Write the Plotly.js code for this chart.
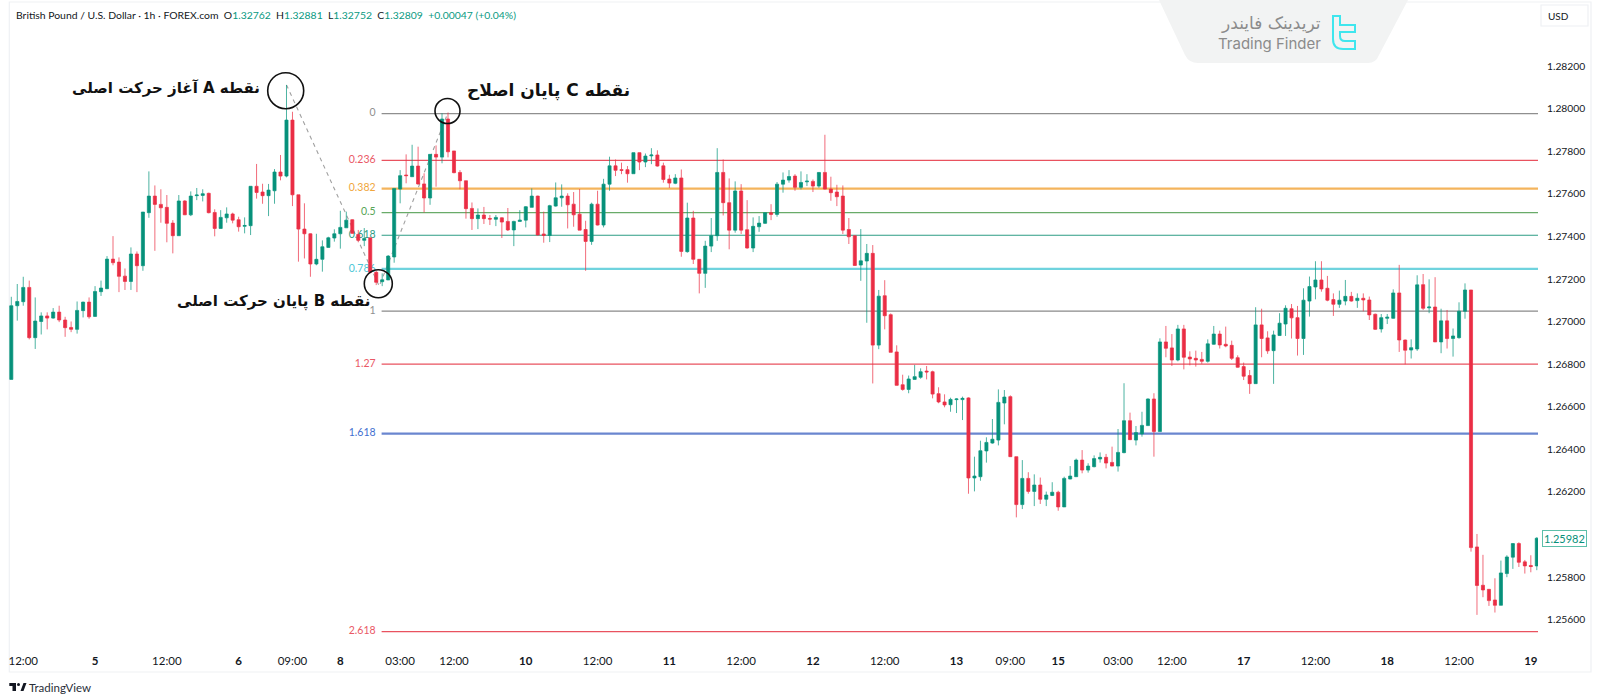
<!DOCTYPE html>
<html><head><meta charset="utf-8">
<script src="https://cdn.plot.ly/plotly-3.0.1.min.js"></script>
<style>html,body{margin:0;padding:0;background:#fff}#c{width:1600px;height:700px}</style>
</head><body><div id="c"></div>
<script>
const opens=[1.26728,1.27074,1.27093,1.27160,1.26924,1.27000,1.27026,1.27016,1.27044,1.27007,1.26972,1.26963,1.27051,1.27091,1.27024,1.27140,1.27154,1.27293,1.27279,1.27213,1.27188,1.27317,1.27262,1.27511,1.27589,1.27550,1.27536,1.27462,1.27403,1.27566,1.27501,1.27591,1.27592,1.27602,1.27512,1.27437,1.27487,1.27505,1.27478,1.27447,1.27450,1.27635,1.27608,1.27591,1.27614,1.27702,1.27683,1.27946,1.27595,1.27434,1.27412,1.27270,1.27292,1.27348,1.27392,1.27412,1.27440,1.27478,1.27409,1.27381,1.27393,1.27231,1.27187,1.27195,1.27303,1.27622,1.27688,1.27680,1.27730,1.27646,1.27580,1.27785,1.27772,1.27951,1.27801,1.27700,1.27661,1.27531,1.27483,1.27500,1.27484,1.27480,1.27487,1.27470,1.27430,1.27470,1.27476,1.27536,1.27589,1.27411,1.27404,1.27542,1.27581,1.27589,1.27551,1.27504,1.27432,1.27376,1.27551,1.27453,1.27645,1.27731,1.27713,1.27713,1.27694,1.27793,1.27749,1.27778,1.27782,1.27731,1.27669,1.27649,1.27674,1.27328,1.27486,1.27292,1.27226,1.27354,1.27403,1.27700,1.27558,1.27429,1.27613,1.27431,1.27345,1.27445,1.27461,1.27511,1.27503,1.27645,1.27664,1.27683,1.27630,1.27656,1.27658,1.27636,1.27700,1.27622,1.27608,1.27589,1.27432,1.27403,1.27265,1.27284,1.27320,1.26889,1.27121,1.27032,1.26857,1.26703,1.26681,1.26728,1.26738,1.26767,1.26764,1.26661,1.26622,1.26609,1.26633,1.26633,1.26641,1.26265,1.26271,1.26392,1.26429,1.26443,1.26617,1.26647,1.26365,1.26140,1.26263,1.26202,1.26232,1.26165,1.26183,1.26198,1.26129,1.26260,1.26271,1.26349,1.26302,1.26318,1.26354,1.26362,1.26338,1.26321,1.26384,1.26534,1.26443,1.26472,1.26511,1.26636,1.26483,1.26904,1.26876,1.26819,1.26965,1.26833,1.26827,1.26822,1.26813,1.26893,1.26941,1.26893,1.26888,1.26830,1.26788,1.26746,1.26708,1.26984,1.26923,1.26863,1.26934,1.26988,1.27060,1.27018,1.26920,1.27096,1.27162,1.27195,1.27156,1.27103,1.27081,1.27096,1.27118,1.27098,1.27109,1.27101,1.27034,1.26965,1.27015,1.27015,1.27134,1.26913,1.26866,1.26871,1.27173,1.27064,1.27068,1.26904,1.27003,1.26920,1.26924,1.27048,1.27148,1.25941,1.25761,1.25742,1.25692,1.25667,1.25816,1.25893,1.25957,1.25871,1.25854,1.25852];
const highs=[1.27116,1.27176,1.27210,1.27192,1.27113,1.27043,1.27043,1.27063,1.27074,1.27022,1.27000,1.27094,1.27093,1.27113,1.27166,1.27192,1.27307,1.27401,1.27301,1.27249,1.27348,1.27329,1.27514,1.27705,1.27639,1.27621,1.27594,1.27476,1.27594,1.27570,1.27611,1.27627,1.27621,1.27605,1.27527,1.27523,1.27536,1.27511,1.27492,1.27489,1.27636,1.27740,1.27647,1.27646,1.27716,1.27782,1.28111,1.27985,1.27595,1.27555,1.27414,1.27412,1.27381,1.27398,1.27433,1.27520,1.27516,1.27480,1.27430,1.27439,1.27393,1.27238,1.27226,1.27312,1.27625,1.27711,1.27785,1.27830,1.27821,1.27696,1.27785,1.27827,1.27978,1.27981,1.27801,1.27711,1.27661,1.27559,1.27531,1.27538,1.27500,1.27500,1.27489,1.27533,1.27473,1.27523,1.27542,1.27625,1.27591,1.27516,1.27548,1.27653,1.27644,1.27602,1.27608,1.27622,1.27473,1.27558,1.27614,1.27670,1.27774,1.27761,1.27746,1.27730,1.27794,1.27794,1.27789,1.27814,1.27804,1.27746,1.27689,1.27692,1.27714,1.27558,1.27520,1.27292,1.27379,1.27486,1.27814,1.27761,1.27672,1.27658,1.27645,1.27570,1.27489,1.27495,1.27511,1.27551,1.27655,1.27700,1.27711,1.27692,1.27705,1.27692,1.27667,1.27702,1.27877,1.27680,1.27642,1.27639,1.27486,1.27404,1.27434,1.27364,1.27359,1.27148,1.27194,1.27038,1.26888,1.26750,1.26746,1.26796,1.26780,1.26791,1.26769,1.26691,1.26658,1.26642,1.26639,1.26647,1.26644,1.26365,1.26440,1.26456,1.26542,1.26681,1.26678,1.26653,1.26365,1.26349,1.26292,1.26282,1.26267,1.26201,1.26245,1.26205,1.26271,1.26321,1.26356,1.26396,1.26334,1.26371,1.26385,1.26378,1.26412,1.26495,1.26710,1.26572,1.26509,1.26576,1.26639,1.26663,1.26921,1.26979,1.26941,1.26984,1.26984,1.26860,1.26863,1.26857,1.26916,1.26979,1.26957,1.26976,1.26910,1.26841,1.26807,1.26772,1.27067,1.27060,1.26954,1.26957,1.27039,1.27076,1.27082,1.27073,1.27156,1.27211,1.27283,1.27283,1.27214,1.27132,1.27145,1.27195,1.27139,1.27132,1.27132,1.27117,1.27037,1.27035,1.27035,1.27151,1.27266,1.26915,1.26916,1.27217,1.27223,1.27198,1.27208,1.27060,1.27054,1.26967,1.27090,1.27179,1.27148,1.26002,1.25904,1.25742,1.25794,1.25877,1.25902,1.25958,1.25963,1.25880,1.25902,1.25987];
const lows=[1.26728,1.27004,1.27074,1.26916,1.26871,1.26939,1.26963,1.27013,1.26997,1.26928,1.26950,1.26943,1.27019,1.27013,1.27022,1.27120,1.27152,1.27264,1.27138,1.27148,1.27148,1.27138,1.27238,1.27487,1.27332,1.27464,1.27372,1.27320,1.27403,1.27500,1.27495,1.27570,1.27564,1.27508,1.27400,1.27436,1.27464,1.27461,1.27422,1.27414,1.27406,1.27577,1.27553,1.27495,1.27553,1.27663,1.27677,1.27542,1.27281,1.27296,1.27210,1.27264,1.27234,1.27347,1.27375,1.27342,1.27440,1.27411,1.27372,1.27354,1.27226,1.27171,1.27166,1.27195,1.27276,1.27555,1.27649,1.27680,1.27642,1.27512,1.27548,1.27633,1.27743,1.27771,1.27696,1.27621,1.27483,1.27430,1.27434,1.27458,1.27453,1.27448,1.27392,1.27425,1.27354,1.27470,1.27442,1.27536,1.27404,1.27370,1.27373,1.27539,1.27539,1.27437,1.27445,1.27429,1.27238,1.27360,1.27451,1.27442,1.27614,1.27683,1.27692,1.27652,1.27694,1.27711,1.27725,1.27739,1.27727,1.27652,1.27627,1.27645,1.27304,1.27323,1.27270,1.27132,1.27158,1.27326,1.27379,1.27498,1.27339,1.27417,1.27411,1.27342,1.27326,1.27421,1.27458,1.27476,1.27492,1.27605,1.27652,1.27614,1.27620,1.27636,1.27608,1.27628,1.27620,1.27567,1.27542,1.27411,1.27364,1.27262,1.27191,1.26994,1.26709,1.26870,1.26963,1.26855,1.26699,1.26675,1.26663,1.26728,1.26731,1.26728,1.26639,1.26616,1.26597,1.26576,1.26570,1.26537,1.26191,1.26202,1.26252,1.26337,1.26426,1.26418,1.26517,1.26364,1.26080,1.26119,1.26191,1.26133,1.26143,1.26133,1.26180,1.26111,1.26129,1.26259,1.26271,1.26287,1.26290,1.26315,1.26337,1.26310,1.26320,1.26295,1.26381,1.26443,1.26418,1.26459,1.26509,1.26365,1.26483,1.26832,1.26791,1.26813,1.26775,1.26794,1.26788,1.26801,1.26807,1.26891,1.26873,1.26879,1.26819,1.26783,1.26725,1.26660,1.26708,1.26832,1.26848,1.26707,1.26932,1.26932,1.26920,1.26840,1.26843,1.27023,1.27104,1.27140,1.27095,1.27026,1.27064,1.27076,1.27093,1.27064,1.27048,1.27007,1.26960,1.26948,1.26988,1.27013,1.26857,1.26799,1.26826,1.26862,1.27054,1.27039,1.26904,1.26851,1.26873,1.26835,1.26919,1.27013,1.25919,1.25622,1.25705,1.25664,1.25633,1.25667,1.25799,1.25838,1.25847,1.25816,1.25822,1.25832];
const closes=[1.27074,1.27094,1.27160,1.26924,1.27002,1.27026,1.27016,1.27044,1.27007,1.26971,1.26963,1.27052,1.27091,1.27022,1.27141,1.27157,1.27293,1.27276,1.27212,1.27188,1.27317,1.27262,1.27514,1.27589,1.27550,1.27534,1.27461,1.27403,1.27566,1.27501,1.27589,1.27594,1.27600,1.27511,1.27437,1.27489,1.27505,1.27476,1.27445,1.27451,1.27635,1.27606,1.27591,1.27617,1.27702,1.27683,1.27946,1.27595,1.27434,1.27412,1.27270,1.27292,1.27351,1.27393,1.27412,1.27442,1.27476,1.27414,1.27381,1.27390,1.27231,1.27184,1.27196,1.27307,1.27625,1.27685,1.27685,1.27730,1.27646,1.27580,1.27785,1.27772,1.27951,1.27797,1.27699,1.27661,1.27530,1.27483,1.27500,1.27483,1.27481,1.27489,1.27467,1.27430,1.27470,1.27476,1.27539,1.27589,1.27406,1.27404,1.27544,1.27581,1.27589,1.27548,1.27501,1.27429,1.27376,1.27551,1.27453,1.27645,1.27731,1.27710,1.27710,1.27694,1.27793,1.27749,1.27777,1.27782,1.27730,1.27667,1.27650,1.27674,1.27329,1.27486,1.27292,1.27226,1.27354,1.27403,1.27700,1.27558,1.27429,1.27613,1.27429,1.27345,1.27447,1.27462,1.27511,1.27503,1.27645,1.27664,1.27681,1.27630,1.27653,1.27659,1.27636,1.27700,1.27622,1.27605,1.27586,1.27429,1.27398,1.27263,1.27285,1.27320,1.26889,1.27119,1.27027,1.26855,1.26700,1.26681,1.26730,1.26741,1.26764,1.26763,1.26659,1.26622,1.26608,1.26634,1.26636,1.26639,1.26265,1.26274,1.26393,1.26432,1.26447,1.26620,1.26645,1.26365,1.26140,1.26263,1.26202,1.26232,1.26165,1.26185,1.26198,1.26129,1.26263,1.26274,1.26349,1.26302,1.26321,1.26356,1.26362,1.26335,1.26321,1.26385,1.26534,1.26445,1.26478,1.26512,1.26636,1.26483,1.26904,1.26874,1.26819,1.26965,1.26832,1.26824,1.26819,1.26813,1.26895,1.26941,1.26890,1.26885,1.26827,1.26785,1.26743,1.26708,1.26984,1.26920,1.26862,1.26937,1.26992,1.27062,1.27017,1.26920,1.27100,1.27164,1.27195,1.27153,1.27100,1.27081,1.27100,1.27118,1.27096,1.27109,1.27101,1.27031,1.26963,1.27018,1.27020,1.27134,1.26913,1.26865,1.26877,1.27172,1.27062,1.27068,1.26904,1.27003,1.26920,1.26932,1.27048,1.27148,1.25938,1.25760,1.25739,1.25689,1.25667,1.25819,1.25894,1.25957,1.25869,1.25852,1.25849,1.25982];
const priceTicks=[1.256,1.258,1.262,1.264,1.266,1.268,1.27,1.272,1.274,1.276,1.278,1.28,1.282];
const timeTickBars=[2,14,26,38,47,55,65,74,86,98,110,122,134,146,158,167,175,185,194,206,218,230,242,254];
const timeTickLabels=['12:00','<b>5</b>','12:00','<b>6</b>','09:00','<b>8</b>','03:00','12:00','<b>10</b>','12:00','<b>11</b>','12:00','<b>12</b>','12:00','<b>13</b>','09:00','<b>15</b>','03:00','12:00','<b>17</b>','12:00','<b>18</b>','12:00','<b>19</b>'];
const fibLabels=['0','0.236','0.382','0.5','0.618','0.786','1','1.27','1.618','2.618'];
const fibPrices=[1.27976,1.27757,1.27624,1.27511,1.27405,1.27247,1.27049,1.26800,1.26473,1.25543];
const swingBars=[46,61.5,73];
const swingPrices=[1.28111,1.27166,1.27981];
const lastClose=1.25982;

const fibColors=['#8f8f8f','#e9525f','#f4b45c','#69ab69','#2c9c85','#6fd3de','#8a8a8a','#e9525f','#6a86cf','#e9525f'];
const fibWidths=[1.3,1.2,2.2,1.2,1.2,2.4,1.2,1.2,2.2,1.2];
const fibTextColors=['#8f8f8f','#ea5865','#f0a63c','#56a656','#2c9c85','#4cc6d6','#8f8f8f','#ea5865','#3f6fd0','#ea5865'];
const GREEN='#07907a',RED='#ea2d45';
const L=9,R=1538,T=2,B=650;
const X=p=>(p-L)/(R-L), Y=p=>(B-p)/(B-T);
const xr=[-0.384,255.2], yr=[1.25457,1.285006];
const path=s=>s.replace(/(-?[\d.]+),(-?[\d.]+)/g,(m,a,b)=>X(+a).toFixed(6)+','+Y(+b).toFixed(6));
const bars=opens.map((_,i)=>i);

const traces=[];
fibPrices.forEach((v,i)=>traces.push({type:'scatter',mode:'lines',x:[61.9,255.2],y:[v,v],xaxis:'x',yaxis:'y',
  line:{color:fibColors[i],width:fibWidths[i]},hoverinfo:'skip'}));
traces.push({type:'scatter',mode:'lines',x:swingBars,y:swingPrices,xaxis:'x',yaxis:'y',
  line:{color:'#a0a0a0',width:1.1,dash:'4px,4px'},hoverinfo:'skip'});
traces.push({type:'scatter',mode:'text',x:fibPrices.map(()=>60.9),y:fibPrices,text:fibLabels,textposition:'middle left',
  textfont:{family:'Lato, sans-serif',size:10.5,color:fibTextColors},xaxis:'x',yaxis:'y',hoverinfo:'skip'});
traces.push({type:'candlestick',x:bars,open:opens,high:highs,low:lows,close:closes,xaxis:'x2',yaxis:'y2',
  increasing:{line:{color:'rgba(8,150,126,0.72)',width:1},fillcolor:GREEN},
  decreasing:{line:{color:'rgba(236,50,70,0.72)',width:1},fillcolor:RED},
  whiskerwidth:0,hoverinfo:'skip'});

const dark='#131722';
const g=s=>'<span style="color:#089981">'+s+'</span>';
const nb='\u00a0';
const fa=s=>'\u202B'+s+'\u202C';
const annotations=[
 {x:X(14),y:Y(15),xanchor:'left',yanchor:'middle',align:'left',
  text:'British Pound / U.S. Dollar · 1h · FOREX.com'+nb+nb+'O'+g('1.32762')+nb+nb+'H'+g('1.32881')+nb+nb+'L'+g('1.32752')+nb+nb+'C'+g('1.32809')+nb+nb+g('+0.00047 (+0.04%)'),
  font:{family:'Lato, sans-serif',size:10.4,color:dark}},
 {x:X(262),y:Y(88),xanchor:'right',yanchor:'middle',text:'<b>'+fa('نقطه A آغاز حرکت اصلی')+'</b>',font:{family:'DejaVu Sans',size:15,color:'#111'}},
 {x:X(372),y:Y(301),xanchor:'right',yanchor:'middle',text:'<b>'+fa('نقطه B پایان حرکت اصلی')+'</b>',font:{family:'DejaVu Sans',size:15,color:'#111'}},
 {x:X(632),y:Y(90),xanchor:'right',yanchor:'middle',text:'<b>'+fa('نقطه C پایان اصلاح')+'</b>',font:{family:'DejaVu Sans',size:17,color:'#111'}},
 {x:X(1323),y:Y(23),xanchor:'right',yanchor:'middle',text:'تریدینک فایندر',font:{family:'DejaVu Sans',size:17,color:'#8b8b8b'}},
 {x:X(1323),y:Y(44),xanchor:'right',yanchor:'middle',text:'Trading Finder',font:{family:'Inter, sans-serif',size:15,color:'#8b8b8b'}},
 {x:X(1558),y:Y(16),xanchor:'center',yanchor:'middle',text:'USD',font:{family:'Lato, sans-serif',size:10,color:dark}},
 {x:X(1564),y:lastClose,yref:'y',xanchor:'center',yanchor:'middle',text:lastClose.toFixed(5),bgcolor:'#fff',bordercolor:'#5cbfa9',borderwidth:1,borderpad:1,
  font:{family:'Lato, sans-serif',size:11,color:GREEN}},
 {x:X(27),y:Y(687),xanchor:'left',yanchor:'middle',text:'TradingView',font:{family:'Lato, sans-serif',size:11.5,color:'#2a2e39'}}
].map(a=>Object.assign({xref:'paper',yref:'paper',showarrow:false},a));

const sh=(o)=>Object.assign({xref:'paper',yref:'paper',layer:'above'},o);
const circle=(cx,cy,r)=>sh({type:'circle',x0:X(cx-r),x1:X(cx+r),y0:Y(cy-r),y1:Y(cy+r),line:{color:'#111',width:1.6}});
const shapes=[
 sh({type:'rect',layer:'below',x0:X(9.3),x1:X(1591),y0:Y(2),y1:Y(672),line:{color:'#eff1f4',width:1.2}}),
 sh({type:'path',path:path('M1159,0 L1185,55 Q1189,63 1198,63 L1368,63 Q1376,63 1379,55 L1408,0 Z'),fillcolor:'#f2f3f3',line:{width:0}}),
 sh({type:'path',path:path('M1333,16 L1340,16 L1340,25 L1355,25 L1355,32 L1340,32 L1340,36 Q1340,41 1345,41 L1355,41 L1355,49 L1343,49 Q1333,49 1333,39 Z'),line:{color:'#3fe6ee',width:2}}),
 sh({type:'rect',x0:X(1541),x1:X(1588),y0:Y(5),y1:Y(26),line:{color:'#eef0f4',width:1.2}}),
 sh({type:'path',path:path('M9.3,683 L16,683 L16,691 L12.5,691 L12.5,686 L9.3,686 Z M20.5,691 L23.5,683 L26.5,683 L23.5,691 Z'),fillcolor:'#131722',line:{width:0}}),
 sh({type:'circle',x0:X(17),x1:X(20),y0:Y(683),y1:Y(686),fillcolor:'#131722',line:{width:0}}),
 circle(285.7,90.7,18), circle(447.5,111,12.5), circle(378.3,283.7,14)
];

const layout={
 width:1600,height:700,autosize:false,showlegend:false,dragmode:false,hovermode:false,
 paper_bgcolor:'#fff',plot_bgcolor:'rgba(0,0,0,0)',
 margin:{l:L,r:1600-R,t:T,b:700-B,pad:0},
 xaxis:{range:xr,tickmode:'array',tickvals:timeTickBars,ticktext:timeTickLabels,showgrid:false,zeroline:false,showline:false,ticks:'',
   ticklabelstandoff:2,rangeslider:{visible:false},tickangle:0,tickfont:{family:'Lato, sans-serif',size:11.5,color:dark},fixedrange:true},
 yaxis:{range:yr,side:'right',tickmode:'array',tickvals:priceTicks,tickformat:'.5f',showgrid:false,zeroline:false,showline:false,ticks:'',
   ticklabelstandoff:8,tickfont:{family:'Lato, sans-serif',size:10.3,color:dark},fixedrange:true},
 xaxis2:{overlaying:'x',range:xr,visible:false,rangeslider:{visible:false},fixedrange:true},
 yaxis2:{overlaying:'y',range:yr,visible:false,side:'right',fixedrange:true},
 boxgap:0.26,
 annotations,shapes
};
Plotly.newPlot('c',traces,layout,{displayModeBar:false,staticPlot:true});
</script></body></html>
